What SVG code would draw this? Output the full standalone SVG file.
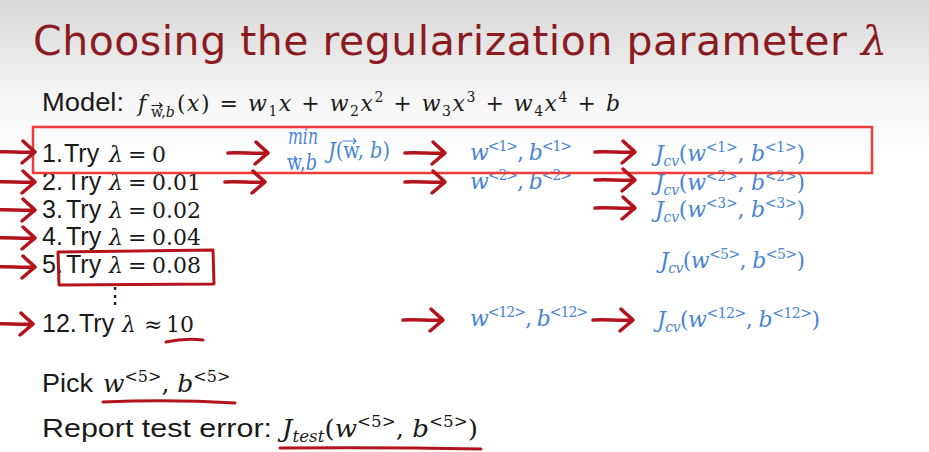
<svg xmlns="http://www.w3.org/2000/svg" xmlns:xlink="http://www.w3.org/1999/xlink" width="929" height="452" viewBox="0 0 929 452">
<defs>
<linearGradient id="bg" x1="0" y1="0" x2="0" y2="1">
<stop offset="0" stop-color="#d8d8d8"/>
<stop offset="0.22" stop-color="#f6f6f6"/>
<stop offset="0.35" stop-color="#ffffff"/>
</linearGradient>
<path id="ar" d="M0,0 C12,-1 28,1 40,0 M28,-11 C33,-6 37,-3 40,0 C36,3 32,7 27,11"/>
<style>
.t{font-family:"DejaVu Sans","Liberation Sans",sans-serif;font-size:41px;fill:#8b1b1f}
.b{font-family:"Liberation Sans",Arial,sans-serif;font-size:25px;fill:#1a1a1a}
.m{font-family:"DejaVu Serif","Liberation Serif",serif;font-size:22px;fill:#1a1a1a}
.big{font-size:25px}
.i{font-style:italic}
.blue{fill:#4a84d6}
.sup{font-size:14px}
.sub{font-size:14px}
.big .sup,.big .sub{font-size:16px}
.vec{fill:none;stroke-width:1.2;stroke-linecap:round;stroke-linejoin:round}
.arr{fill:none;stroke:#b3141c;stroke-width:3.5;stroke-linecap:round;stroke-linejoin:round}
.box{fill:none;stroke:#ee3b3b;stroke-width:2.5}
.ink{fill:none;stroke:#b3141c;stroke-width:3;stroke-linecap:round;stroke-linejoin:round}
</style>
</defs>
<rect width="929" height="452" fill="url(#bg)"/>

<g id="title">
<text class="t" x="33" y="55" textLength="854">Choosing the regularization parameter <tspan class="i" font-family="DejaVu Serif,serif">λ</tspan></text>
</g>

<g id="model">
<text class="b" x="42" y="111" textLength="82" lengthAdjust="spacingAndGlyphs">Model:</text>
<text class="m i" x="138" y="111">f</text>
<text class="m sub" x="151" y="117">w,<tspan class="i">b</tspan></text>
<path class="vec" stroke="#1a1a1a" d="M152,105.5 H162 M159.5,103 L162,105.5 L159.5,108"/>
<text class="m" x="177" y="111" textLength="443"><tspan>(</tspan><tspan class="i">x</tspan><tspan>) = </tspan><tspan class="i">w</tspan><tspan class="sub" dy="5">1</tspan><tspan class="i" dy="-5">x</tspan><tspan> + </tspan><tspan class="i">w</tspan><tspan class="sub" dy="5">2</tspan><tspan class="i" dy="-5">x</tspan><tspan class="sup" dy="-9">2</tspan><tspan dy="9"> + </tspan><tspan class="i">w</tspan><tspan class="sub" dy="5">3</tspan><tspan class="i" dy="-5">x</tspan><tspan class="sup" dy="-9">3</tspan><tspan dy="9"> + </tspan><tspan class="i">w</tspan><tspan class="sub" dy="5">4</tspan><tspan class="i" dy="-5">x</tspan><tspan class="sup" dy="-9">4</tspan><tspan dy="9"> + </tspan><tspan class="i">b</tspan></text>
</g>

<g id="row1">
<text class="b" y="162"><tspan x="42">1.</tspan><tspan x="64">Try</tspan></text>
<text class="m" y="162"><tspan class="i" x="109">λ</tspan><tspan x="128">=</tspan><tspan x="152">0</tspan></text>
</g>
<g id="row2">
<text class="b" y="190"><tspan x="42">2.</tspan><tspan x="66">Try</tspan></text>
<text class="m" y="190"><tspan class="i" x="109">λ</tspan><tspan x="128">=</tspan><tspan x="152">0.01</tspan></text>
</g>
<g id="row3">
<text class="b" y="218"><tspan x="42">3.</tspan><tspan x="66">Try</tspan></text>
<text class="m" y="218"><tspan class="i" x="109">λ</tspan><tspan x="128">=</tspan><tspan x="152">0.02</tspan></text>
</g>
<g id="row4">
<text class="b" y="245"><tspan x="42">4.</tspan><tspan x="66">Try</tspan></text>
<text class="m" y="245"><tspan class="i" x="109">λ</tspan><tspan x="128">=</tspan><tspan x="152">0.04</tspan></text>
</g>
<g id="row5">
<text class="b" y="273"><tspan x="42">5.</tspan><tspan x="66">Try</tspan></text>
<text class="m" y="273"><tspan class="i" x="109">λ</tspan><tspan x="128">=</tspan><tspan x="152">0.08</tspan></text>
</g>
<g id="dots">
<text class="m" x="104" y="303" font-size="20">⋮</text>
</g>
<g id="row12">
<text class="b" y="332"><tspan x="42">12.</tspan><tspan x="79">Try</tspan></text>
<text class="m" y="332"><tspan class="i" x="122">λ</tspan><tspan x="144">≈</tspan><tspan x="166">10</tspan></text>
</g>

<g id="minJ">
<text class="m blue i" x="288" y="144" font-size="14" textLength="30" lengthAdjust="spacingAndGlyphs">min</text>
<text class="m blue" x="287" y="170" font-size="14" textLength="30" lengthAdjust="spacingAndGlyphs">w,<tspan class="i">b</tspan></text>
<path class="vec" stroke="#4a84d6" d="M288,159 H297 M294.5,156.5 L297,159 L294.5,161.5"/>
<text class="m blue" x="328" y="158" font-size="20" textLength="62" lengthAdjust="spacingAndGlyphs"><tspan class="i">J</tspan><tspan>(w, </tspan><tspan class="i">b</tspan><tspan>)</tspan></text>
<path class="vec" stroke="#4a84d6" d="M343,141 H356 M353.5,138.5 L356,141 L353.5,143.5"/>
</g>

<g id="wb1">
<text class="m blue" x="470" y="160" textLength="102"><tspan class="i">w</tspan><tspan class="sup" dy="-9">&lt;1&gt;</tspan><tspan dy="9">, </tspan><tspan class="i">b</tspan><tspan class="sup" dy="-9">&lt;1&gt;</tspan></text>
</g>
<g id="wb2">
<text class="m blue" x="470" y="189" textLength="102"><tspan class="i">w</tspan><tspan class="sup" dy="-9">&lt;2&gt;</tspan><tspan dy="9">, </tspan><tspan class="i">b</tspan><tspan class="sup" dy="-9">&lt;2&gt;</tspan></text>
</g>
<g id="wb12">
<text class="m blue" x="470" y="326" textLength="118"><tspan class="i">w</tspan><tspan class="sup" dy="-9">&lt;12&gt;</tspan><tspan dy="9">, </tspan><tspan class="i">b</tspan><tspan class="sup" dy="-9">&lt;12&gt;</tspan></text>
</g>

<g id="jcv1">
<text class="m blue" x="655" y="161" textLength="150"><tspan class="i">J</tspan><tspan class="sub i" dy="5">cv</tspan><tspan dy="-5">(</tspan><tspan class="i">w</tspan><tspan class="sup" dy="-9">&lt;1&gt;</tspan><tspan dy="9">, </tspan><tspan class="i">b</tspan><tspan class="sup" dy="-9">&lt;1&gt;</tspan><tspan dy="9">)</tspan></text>
</g>
<g id="jcv2">
<text class="m blue" x="655" y="190" textLength="150"><tspan class="i">J</tspan><tspan class="sub i" dy="5">cv</tspan><tspan dy="-5">(</tspan><tspan class="i">w</tspan><tspan class="sup" dy="-9">&lt;2&gt;</tspan><tspan dy="9">, </tspan><tspan class="i">b</tspan><tspan class="sup" dy="-9">&lt;2&gt;</tspan><tspan dy="9">)</tspan></text>
</g>
<g id="jcv3">
<text class="m blue" x="655" y="217" textLength="150"><tspan class="i">J</tspan><tspan class="sub i" dy="5">cv</tspan><tspan dy="-5">(</tspan><tspan class="i">w</tspan><tspan class="sup" dy="-9">&lt;3&gt;</tspan><tspan dy="9">, </tspan><tspan class="i">b</tspan><tspan class="sup" dy="-9">&lt;3&gt;</tspan><tspan dy="9">)</tspan></text>
</g>
<g id="jcv5">
<text class="m blue" x="660" y="268" textLength="145"><tspan class="i">J</tspan><tspan class="sub i" dy="5">cv</tspan><tspan dy="-5">(</tspan><tspan class="i">w</tspan><tspan class="sup" dy="-9">&lt;5&gt;</tspan><tspan dy="9">, </tspan><tspan class="i">b</tspan><tspan class="sup" dy="-9">&lt;5&gt;</tspan><tspan dy="9">)</tspan></text>
</g>
<g id="jcv12">
<text class="m blue" x="657" y="327" textLength="163"><tspan class="i">J</tspan><tspan class="sub i" dy="5">cv</tspan><tspan dy="-5">(</tspan><tspan class="i">w</tspan><tspan class="sup" dy="-9">&lt;12&gt;</tspan><tspan dy="9">, </tspan><tspan class="i">b</tspan><tspan class="sup" dy="-9">&lt;12&gt;</tspan><tspan dy="9">)</tspan></text>
</g>

<g id="pick">
<text class="b" x="42" y="392" textLength="51" lengthAdjust="spacingAndGlyphs">Pick</text>
<text class="m big" x="103" y="392"><tspan class="i">w</tspan><tspan class="sup" dy="-10">&lt;5&gt;</tspan><tspan dy="10">, </tspan><tspan class="i">b</tspan><tspan class="sup" dy="-10">&lt;5&gt;</tspan></text>
</g>
<g id="report">
<text class="b" x="42" y="437" textLength="230" lengthAdjust="spacingAndGlyphs" font-size="26">Report test error:</text>
<text class="m big" x="282" y="437" textLength="196" lengthAdjust="spacingAndGlyphs"><tspan class="i">J</tspan><tspan class="sub i" dy="5">test</tspan><tspan dy="-5">(</tspan><tspan class="i">w</tspan><tspan class="sup" dy="-10">&lt;5&gt;</tspan><tspan dy="10">, </tspan><tspan class="i">b</tspan><tspan class="sup" dy="-10">&lt;5&gt;</tspan><tspan dy="10">)</tspan></text>
</g>

<g id="highlight">
<rect class="box" x="33" y="127" width="839" height="46"/>
<path class="ink" d="M58,252 L213,250 L214,284 L59,285 Z"/>
<path class="ink" d="M166,342 Q184,338 203,340"/>
<path class="ink" d="M103,402 Q170,399 235,403"/>
<path class="ink" d="M280,448 Q380,447 481,449"/>
</g>

<g id="connectors" class="arr">
<use xlink:href="#ar" x="-5" y="152"/>
<use xlink:href="#ar" x="-5" y="182"/>
<use xlink:href="#ar" x="-5" y="210"/>
<use xlink:href="#ar" x="-5" y="238"/>
<use xlink:href="#ar" x="-5" y="267"/>
<use xlink:href="#ar" x="-7" y="324"/>
<use xlink:href="#ar" x="228" y="153"/>
<use xlink:href="#ar" x="225" y="182"/>
<use xlink:href="#ar" x="405" y="153"/>
<use xlink:href="#ar" x="405" y="182"/>
<use xlink:href="#ar" x="403" y="320"/>
<use xlink:href="#ar" x="595" y="152"/>
<use xlink:href="#ar" x="595" y="180"/>
<use xlink:href="#ar" x="595" y="208"/>
<use xlink:href="#ar" x="593" y="320"/>
</g>
</svg>
